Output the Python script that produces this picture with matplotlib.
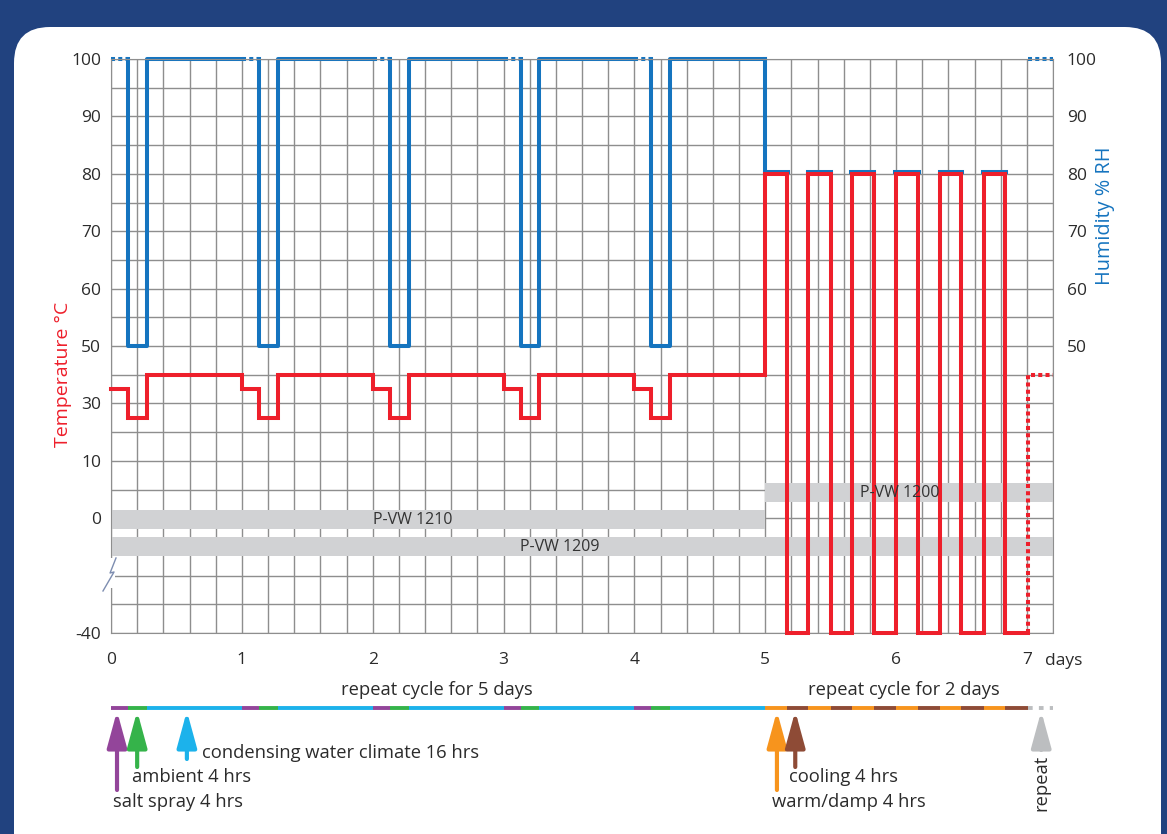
import numpy as np
import matplotlib
matplotlib.use('Agg')
import matplotlib.pyplot as plt
import matplotlib.transforms as mtransforms
from matplotlib.patches import FancyBboxPatch, Rectangle

plt.rcParams['font.family'] = ['Open Sans', 'DejaVu Sans']
plt.rcParams['axes.unicode_minus'] = False

#%% data (days)
salt_start     = [0.0, 1.0, 2.0, 3.0, 4.0]
ambient_start  = [0.13, 1.13, 2.13, 3.13, 4.13]
condense_start = [0.275, 1.275, 2.275, 3.275, 4.275]
vw1210_end     = 5.0

warm_start = [5.0, 5.33, 5.66, 6.0, 6.34, 6.67]
cool_start = [5.17, 5.5, 5.83, 6.17, 6.5, 6.835]
vw1200_end = 7.01
x_end      = 7.2

# levels
t_salt, t_amb, t_cond = 35, 25, 40
t_warm, t_cool = 80, -40
h_salt, h_amb, h_cond = 100, 50, 100
h_warm = 80

temp_ticks = [-40, 0, 10, 30, 50, 60, 70, 80, 90, 100]
hum_ticks  = [50, 60, 70, 80, 90, 100]
day_ticks  = [0, 1, 2, 3, 4, 5, 6, 7]

bars = [('P-VW 1200', 5.0, 7.2, 6.03),
        ('P-VW 1210', 0.0, 5.0, 2.31),
        ('P-VW 1209', 0.0, 7.2, 3.43)]

RED    = '#ee1f2b'
BLUE   = '#1574bf'
DARK   = '#2b2b2b'
GRIDC  = '#8e8e8e'
PURPLE = '#93459a'
GREEN  = '#35b34a'
CYAN   = '#1cb2eb'
ORANGE = '#f7941d'
BROWN  = '#8e4b36'
GREY   = '#bcbec0'

#%% step breakpoints for the temperature curve
temp_x, temp_y = [], []
for s, a, c in zip(salt_start, ambient_start, condense_start):
    temp_x += [s, a, c]
    temp_y += [t_salt, t_amb, t_cond]
for w, c in zip(warm_start, cool_start):
    temp_x += [w, c]
    temp_y += [t_warm, t_cool]
temp_x += [vw1200_end]
temp_y += [t_cool]

#%% figure
W, H = 1167, 834
fig = plt.figure(figsize=(W / 100, H / 100), dpi=100)
fig.patch.set_facecolor('#21427f')
panel = FancyBboxPatch((0.14, -0.6), 11.47, 8.67,
                       boxstyle='round,pad=0,rounding_size=0.36',
                       transform=fig.dpi_scale_trans, facecolor='white',
                       edgecolor='none', zorder=-10)
fig.patches.append(panel)

x0, x1, ytop, ybot = 111, 1053, 59, 633
ax_h = fig.add_axes([x0 / W, 1 - ybot / H, (x1 - x0) / W, (ybot - ytop) / H])
ax_t = ax_h.twinx()

# temperature axis: piecewise scale so the tick labels sit on the grid rows
g_pts = [0, 4, 6, 8, 10, 12, 14, 16, 18, 20]
fwd = lambda v: np.interp(v, temp_ticks, g_pts)
inv = lambda g: np.interp(g, g_pts, temp_ticks)
ax_t.set_yscale('function', functions=(fwd, inv))
ax_t.set_ylim(-40, 100)
ax_h.set_ylim(0, 100)
ax_h.set_xlim(0, x_end)

ax_h.yaxis.tick_right()
ax_t.yaxis.tick_left()
ax_h.set_yticks(hum_ticks)
ax_h.set_yticks(np.arange(0, 101, 5), minor=True)
ax_t.set_yticks(temp_ticks)
ax_t.yaxis.set_minor_locator(plt.NullLocator())
ax_h.set_xticks(day_ticks)
ax_h.set_xticks(np.arange(0, 7.21, 0.2), minor=True)
ax_h.set_axisbelow(True)
ax_h.grid(True, which='both', color=GRIDC, lw=1.0)

ax_h.tick_params(axis='both', which='both', length=0, labelsize=12.5, labelcolor=DARK)
ax_h.tick_params(axis='x', pad=14)
ax_h.tick_params(axis='y', pad=10)
ax_t.tick_params(axis='y', which='both', length=0, labelsize=12.5, labelcolor=DARK, pad=7)
for sp in ax_h.spines.values():
    sp.set_color(GRIDC)
for sp in ax_t.spines.values():
    sp.set_visible(False)

# grey test bands
band_y = [24.45, 19.75, 15.05]
for (name, b0, b1, tx), by in zip(bars, band_y):
    ax_h.barh(by, b1 - b0, left=b0, height=3.3, color='#d1d2d4', zorder=1)
    ax_t.text(tx, by, name, transform=ax_h.transData, ha='center', va='center',
              fontsize=11.5, color='#333333', zorder=6)

# humidity line
lw = 2.9
dot = (0, (1.0, 0.8))
up2 = mtransforms.offset_copy(ax_h.transData, fig=fig, x=0, y=1.5, units='dots')
for s, a, c, n in zip(salt_start, ambient_start, condense_start, salt_start[1:] + [vw1210_end]):
    ax_h.plot([s, a], [h_salt, h_salt], color=BLUE, lw=lw, ls=dot, zorder=2, clip_on=False)
    ax_h.plot([a, a, c, c, n], [h_salt, h_amb, h_amb, h_cond, h_cond], color=BLUE, lw=lw,
              zorder=2, clip_on=False)
ax_h.plot([vw1210_end, vw1210_end], [h_cond, h_warm], color=BLUE, lw=lw, zorder=2, clip_on=False)
for w, c in zip(warm_start, cool_start):
    ax_h.plot([w - 0.004, c + 0.004], [h_warm, h_warm], color=BLUE, lw=lw, zorder=2, transform=up2)
ax_h.plot([vw1200_end, x_end], [h_salt, h_salt], color=BLUE, lw=lw, ls=dot, zorder=2, clip_on=False)

# temperature line
ax_t.plot(temp_x, temp_y, color=RED, lw=lw, zorder=3, drawstyle='steps-post',
          solid_joinstyle='miter', clip_on=False)
ax_t.plot([vw1200_end, vw1200_end, x_end], [t_cool, t_cond, t_cond], color=RED, lw=lw,
          ls=dot, zorder=3, clip_on=False)

# axis break
ax_t.add_patch(Rectangle((-0.005, 0.078), 0.009, 0.053, transform=ax_t.transAxes,
                         facecolor='white', edgecolor='none', clip_on=False, zorder=4))
ax_t.plot([0.0053, -0.001, 0.0032, -0.0085], [0.1307, 0.1045, 0.1063, 0.0732],
          transform=ax_t.transAxes, color='#7d8db0', lw=1, clip_on=False, zorder=5)

ax_h.annotate('days', xy=(7.0, 0), xycoords=('data', 'axes fraction'), xytext=(18, -28),
              textcoords='offset pixels', ha='left', va='center', fontsize=12.5, color=DARK)

fig.text(63 / W, 1 - 374 / H, 'Temperature °C', rotation=90, ha='center', va='center',
         fontsize=14, color=RED)
fig.text(1105 / W, 1 - 216 / H, 'Humidity % RH', rotation=90, ha='center', va='center',
         fontsize=14.3, color=BLUE)

#%% phase timeline
tl = fig.add_axes([x0 / W, 0, (x1 - x0) / W, 154 / H], sharex=ax_h)
tl.set_ylim(0, 154)
tl.axis('off')
yl = 126  # timeline row
for s, a, c, n in zip(salt_start, ambient_start, condense_start, salt_start[1:] + [vw1210_end]):
    tl.plot([s, a], [yl, yl], color=PURPLE, lw=2.8, solid_capstyle='butt')
    tl.plot([a, c], [yl, yl], color=GREEN, lw=2.8, solid_capstyle='butt')
    tl.plot([c, n], [yl, yl], color=CYAN, lw=2.8, solid_capstyle='butt')
for w, c, n in zip(warm_start, cool_start, warm_start[1:] + [vw1200_end]):
    tl.plot([w, c], [yl, yl], color=ORANGE, lw=2.8, solid_capstyle='butt')
    tl.plot([c, n], [yl, yl], color=BROWN, lw=2.8, solid_capstyle='butt')
tl.plot([vw1200_end, x_end], [yl, yl], color=GREY, lw=2.8, ls=(0, (1.2, 1.6)))

arrows = [(0.046, 44, PURPLE), (0.2, 67, GREEN), (0.58, 75, CYAN),
          (5.09, 44, ORANGE), (5.23, 67, BROWN), (7.11, 84, GREY)]
for ax_x, yb, col in arrows:
    tl.annotate('', xy=(ax_x, 123), xytext=(ax_x, yb),
                arrowprops=dict(arrowstyle='-|>,head_length=1.1,head_width=0.3', color=col,
                                lw=3, shrinkA=0, shrinkB=0, mutation_scale=20))

lab = dict(fontsize=13.2, color=DARK, va='center', ha='left')
tl.text(0.695, 81, 'condensing water climate 16 hrs', **lab)
tl.text(0.16, 57, 'ambient 4 hrs', **lab)
tl.text(0.015, 32, 'salt spray 4 hrs', **lab)
tl.text(5.185, 57, 'cooling 4 hrs', **lab)
tl.text(5.05, 32, 'warm/damp 4 hrs', **lab)
tl.text(7.11, 51, 'repeat', rotation=90, fontsize=13.2, color=DARK, ha='center', va='center')
tl.text(2.49, 144, 'repeat cycle for 5 days', fontsize=13.2, color=DARK, ha='center', va='center')
tl.text(6.06, 144, 'repeat cycle for 2 days', fontsize=13.2, color=DARK, ha='center', va='center')

fig.savefig('out.png', dpi=100, facecolor=fig.get_facecolor())
